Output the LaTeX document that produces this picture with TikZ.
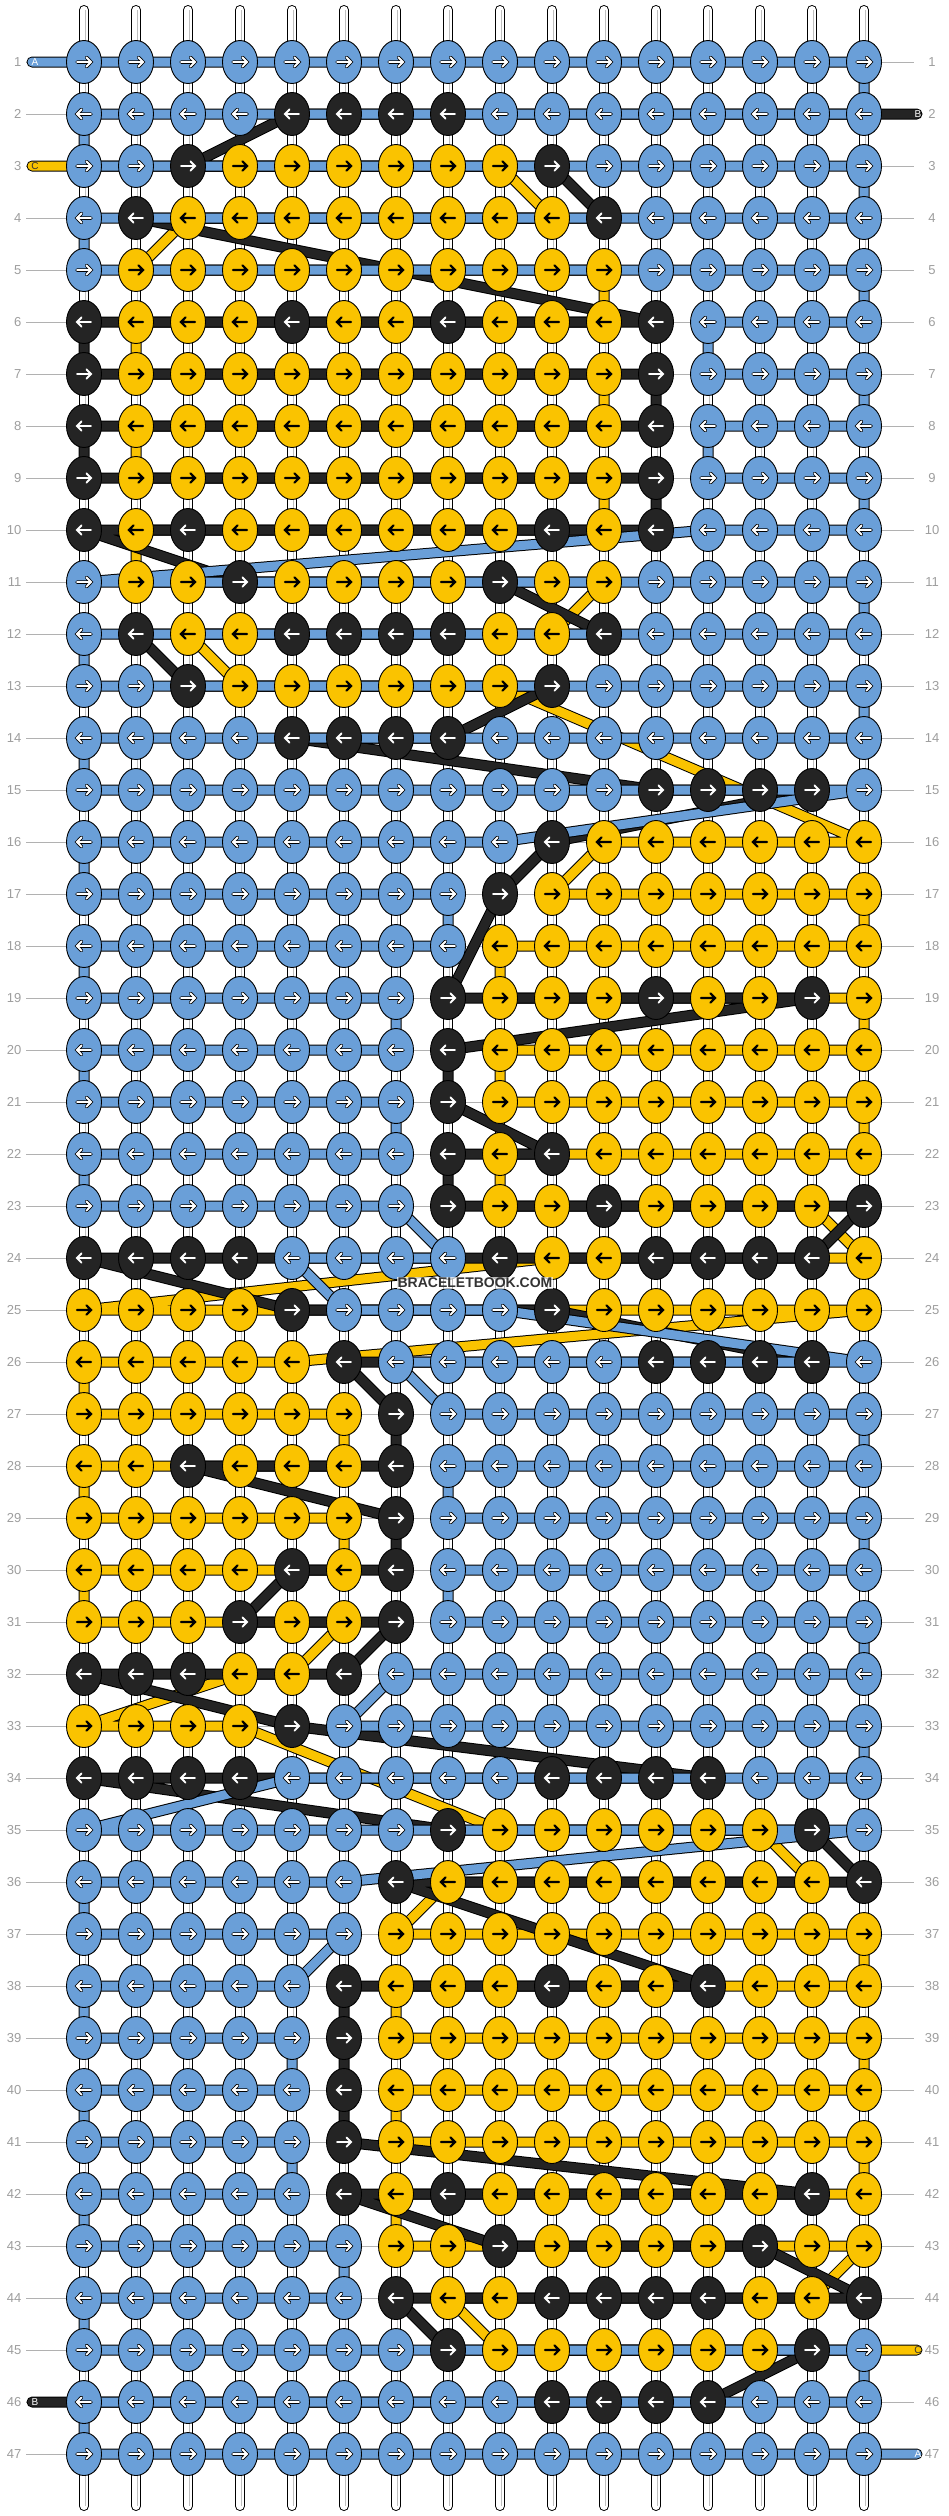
\documentclass[tikz,border=0pt]{standalone}
\usepackage{fontspec}
\setmainfont{Liberation Sans}
\usetikzlibrary{shapes.geometric}
\definecolor{cA}{RGB}{106,159,216}
\definecolor{cB}{RGB}{36,36,36}
\definecolor{cC}{RGB}{250,195,0}
\definecolor{labgray}{RGB}{158,158,158}
\definecolor{strgray}{RGB}{190,190,190}
\newcommand\knotrow[2]{%
 \pgfmathsetmacro\kdir{2*mod(#1,2)-1}%
 \foreach \k [count=\i] in {#2}{%
   \node[knot=c\k] (k-\i-#1) at (p-\i-#1) {};
   \begin{scope}[shift={(p-\i-#1)},xscale=\kdir]
     \if\k C\relax
       \draw[arrD] (-7,0)--(7,0) (2.5,-4.6)--(7,0)--(2.5,4.6);
     \else
       \if\k A\relax \draw[arrO] (-7,0)--(7,0) (2.5,-4.6)--(7,0)--(2.5,4.6); \fi
       \draw[arrW] (-7,0)--(7,0) (2.5,-4.6)--(7,0)--(2.5,4.6);
     \fi
   \end{scope}
 }%
}
\begin{document}
\begin{tikzpicture}[x=1pt,y=-1pt,
  knot/.style={ellipse, draw=black, line width=0.9pt, fill=#1, minimum width=35pt, minimum height=43pt, inner sep=0pt},
  thread/.style={line width=9pt, draw=#1, line join=round, line cap=round,
     preaction={draw=black, line width=11pt, line join=round, line cap=round}},
  strout/.style={draw=black, line width=10pt, line cap=round},
  strin/.style={draw=white, line width=8pt, line cap=round},
  strmid/.style={draw=strgray, line width=0.9pt},
  rowline/.style={draw=labgray!80, line width=0.8pt},
  rowlab/.style={font=\fontsize{13}{13}\selectfont, text=labgray, inner sep=0pt},
  barlet/.style={font=\fontsize{10}{10}\selectfont, inner sep=0pt},
  arrD/.style={draw=black, line width=2.2pt, line cap=round, line join=miter},
  arrW/.style={draw=white, line width=1.9pt, line cap=round, line join=miter},
  arrO/.style={draw=black, line width=3.5pt, line cap=round, line join=miter},
  wm/.style={font=\bfseries\fontsize{14}{14}\selectfont, text=black!80, fill=white, fill opacity=0.7, text opacity=1, inner sep=1pt}
]
\useasboundingbox (0,0) rectangle (948,2516);
\fill[white] (0,0) rectangle (948,2516);
% grid coordinates
\foreach \c in {1,...,16}{\foreach \r in {1,...,47}{\coordinate (p-\c-\r) at ({84+52*(\c-1)},{62+52*(\r-1)});}}
% row guide lines and labels
\foreach \r in {1,...,47}{
  \coordinate (gl-\r) at (26,{62+52*(\r-1)});
  \coordinate (gr-\r) at (914,{62+52*(\r-1)});
  \draw[rowline] (gl-\r) -- (gr-\r);
  \node[rowlab, anchor=east] (L-\r) at (21.5,{62+52*(\r-1)}) {\r};
  \node[rowlab] (R-\r) at (932,{62+52*(\r-1)}) {\r};
}
% vertical base strings
\foreach \c in {1,...,16}{
  \coordinate (st-\c) at ({84+52*(\c-1)},10);
  \coordinate (sb-\c) at ({84+52*(\c-1)},2506);
  \draw[strout] (st-\c) -- (sb-\c);
  \draw[strin] (st-\c) -- (sb-\c);
  \draw[strmid] ([xshift=1.5pt]st-\c) -- ([xshift=1.5pt]sb-\c);
}
% free ends of the working threads
\coordinate (aL) at (32,62);
\coordinate (cL) at (32,166);
\coordinate (bR) at (917,114);
\coordinate (cR) at (917,2350);
\coordinate (bL) at (32,2402);
\coordinate (aR) at (917,2454);
% thread C (yellow)
\draw[thread=cC] (cL) -- (p-9-3) -- (p-10-4) -- (p-3-4) -- (p-2-5) -- (p-11-5) -- (p-11-6) -- (p-2-6) -- (p-2-7) -- (p-11-7) -- (p-11-8) -- (p-2-8) -- (p-2-9) -- (p-11-9) -- (p-11-10) -- (p-2-10) -- (p-2-11) -- (p-11-11) -- (p-10-12) -- (p-3-12) -- (p-4-13) -- (p-9-13) -- (p-16-16) -- (p-11-16) -- (p-10-17) -- (p-16-17) -- (p-16-18) -- (p-9-18) -- (p-9-19) -- (p-16-19) -- (p-16-20) -- (p-9-20) -- (p-9-21) -- (p-16-21) -- (p-16-22) -- (p-9-22) -- (p-9-23) -- (p-15-23) -- (p-16-24) -- (p-10-24) -- (p-1-25) -- (p-16-25) -- (p-5-26) -- (p-1-26) -- (p-1-27) -- (p-6-27) -- (p-6-28) -- (p-1-28) -- (p-1-29) -- (p-6-29) -- (p-6-30) -- (p-1-30) -- (p-1-31) -- (p-6-31) -- (p-5-32) -- (p-4-32) -- (p-1-33) -- (p-4-33) -- (p-9-35) -- (p-14-35) -- (p-15-36) -- (p-8-36) -- (p-7-37) -- (p-16-37) -- (p-16-38) -- (p-7-38) -- (p-7-39) -- (p-16-39) -- (p-16-40) -- (p-7-40) -- (p-7-41) -- (p-16-41) -- (p-16-42) -- (p-7-42) -- (p-7-43) -- (p-16-43) -- (p-15-44) -- (p-8-44) -- (p-9-45) -- (cR);
% thread B (black)
\draw[thread=cB] (bR) -- (p-5-2) -- (p-3-3) -- (p-10-3) -- (p-11-4) -- (p-2-4) -- (p-12-6) -- (p-1-6) -- (p-1-7) -- (p-12-7) -- (p-12-8) -- (p-1-8) -- (p-1-9) -- (p-12-9) -- (p-12-10) -- (p-1-10) -- (p-4-11) -- (p-9-11) -- (p-11-12) -- (p-2-12) -- (p-3-13) -- (p-10-13) -- (p-8-14) -- (p-5-14) -- (p-12-15) -- (p-15-15) -- (p-10-16) -- (p-9-17) -- (p-8-19) -- (p-15-19) -- (p-8-20) -- (p-8-21) -- (p-10-22) -- (p-8-22) -- (p-8-23) -- (p-16-23) -- (p-15-24) -- (p-1-24) -- (p-5-25) -- (p-10-25) -- (p-15-26) -- (p-6-26) -- (p-7-27) -- (p-7-28) -- (p-3-28) -- (p-7-29) -- (p-7-30) -- (p-5-30) -- (p-4-31) -- (p-7-31) -- (p-6-32) -- (p-1-32) -- (p-5-33) -- (p-13-34) -- (p-1-34) -- (p-8-35) -- (p-15-35) -- (p-16-36) -- (p-7-36) -- (p-13-38) -- (p-6-38) -- (p-6-41) -- (p-15-42) -- (p-6-42) -- (p-9-43) -- (p-14-43) -- (p-16-44) -- (p-7-44) -- (p-8-45) -- (p-15-45) -- (p-13-46) -- (bL);
% thread A (blue)
\draw[thread=cA] (aL) -- (p-16-1) -- (p-16-2) -- (p-1-2) -- (p-1-3) -- (p-16-3) -- (p-16-4) -- (p-1-4) -- (p-1-5) -- (p-16-5) -- (p-16-6) -- (p-13-6) -- (p-13-7) -- (p-16-7) -- (p-16-8) -- (p-13-8) -- (p-13-9) -- (p-16-9) -- (p-16-10) -- (p-13-10) -- (p-1-11) -- (p-16-11) -- (p-16-12) -- (p-1-12) -- (p-1-13) -- (p-16-13) -- (p-16-14) -- (p-1-14) -- (p-1-15) -- (p-16-15) -- (p-9-16) -- (p-1-16) -- (p-1-17) -- (p-8-17) -- (p-8-18) -- (p-1-18) -- (p-1-19) -- (p-7-19) -- (p-7-20) -- (p-1-20) -- (p-1-21) -- (p-7-21) -- (p-7-22) -- (p-1-22) -- (p-1-23) -- (p-7-23) -- (p-8-24) -- (p-5-24) -- (p-6-25) -- (p-9-25) -- (p-16-26) -- (p-7-26) -- (p-8-27) -- (p-16-27) -- (p-16-28) -- (p-8-28) -- (p-8-29) -- (p-16-29) -- (p-16-30) -- (p-8-30) -- (p-8-31) -- (p-16-31) -- (p-16-32) -- (p-7-32) -- (p-6-33) -- (p-16-33) -- (p-16-34) -- (p-5-34) -- (p-1-35) -- (p-16-35) -- (p-6-36) -- (p-1-36) -- (p-1-37) -- (p-6-37) -- (p-5-38) -- (p-1-38) -- (p-1-39) -- (p-5-39) -- (p-5-40) -- (p-1-40) -- (p-1-41) -- (p-5-41) -- (p-5-42) -- (p-1-42) -- (p-1-43) -- (p-6-43) -- (p-6-44) -- (p-1-44) -- (p-1-45) -- (p-16-45) -- (p-16-46) -- (p-1-46) -- (p-1-47) -- (p-16-47) -- (aR);
% thread letters
\node[barlet, text=white] (tA1) at (35,62) {A};
\node[barlet, text=black!80] (tC1) at (35,166) {C};
\node[barlet, text=white] (tB1) at (918,114) {B};
\node[barlet, text=black!80] (tC2) at (918,2350) {C};
\node[barlet, text=white] (tB2) at (35,2402) {B};
\node[barlet, text=white] (tA2) at (918,2454) {A};
% knots
\knotrow{1}{A,A,A,A,A,A,A,A,A,A,A,A,A,A,A,A}
\knotrow{2}{A,A,A,A,B,B,B,B,A,A,A,A,A,A,A,A}
\knotrow{3}{A,A,B,C,C,C,C,C,C,B,A,A,A,A,A,A}
\knotrow{4}{A,B,C,C,C,C,C,C,C,C,B,A,A,A,A,A}
\knotrow{5}{A,C,C,C,C,C,C,C,C,C,C,A,A,A,A,A}
\knotrow{6}{B,C,C,C,B,C,C,B,C,C,C,B,A,A,A,A}
\knotrow{7}{B,C,C,C,C,C,C,C,C,C,C,B,A,A,A,A}
\knotrow{8}{B,C,C,C,C,C,C,C,C,C,C,B,A,A,A,A}
\knotrow{9}{B,C,C,C,C,C,C,C,C,C,C,B,A,A,A,A}
\knotrow{10}{B,C,B,C,C,C,C,C,C,B,C,B,A,A,A,A}
\knotrow{11}{A,C,C,B,C,C,C,C,B,C,C,A,A,A,A,A}
\knotrow{12}{A,B,C,C,B,B,B,B,C,C,B,A,A,A,A,A}
\knotrow{13}{A,A,B,C,C,C,C,C,C,B,A,A,A,A,A,A}
\knotrow{14}{A,A,A,A,B,B,B,B,A,A,A,A,A,A,A,A}
\knotrow{15}{A,A,A,A,A,A,A,A,A,A,A,B,B,B,B,A}
\knotrow{16}{A,A,A,A,A,A,A,A,A,B,C,C,C,C,C,C}
\knotrow{17}{A,A,A,A,A,A,A,A,B,C,C,C,C,C,C,C}
\knotrow{18}{A,A,A,A,A,A,A,A,C,C,C,C,C,C,C,C}
\knotrow{19}{A,A,A,A,A,A,A,B,C,C,C,B,C,C,B,C}
\knotrow{20}{A,A,A,A,A,A,A,B,C,C,C,C,C,C,C,C}
\knotrow{21}{A,A,A,A,A,A,A,B,C,C,C,C,C,C,C,C}
\knotrow{22}{A,A,A,A,A,A,A,B,C,B,C,C,C,C,C,C}
\knotrow{23}{A,A,A,A,A,A,A,B,C,C,B,C,C,C,C,B}
\knotrow{24}{B,B,B,B,A,A,A,A,B,C,C,B,B,B,B,C}
\knotrow{25}{C,C,C,C,B,A,A,A,A,B,C,C,C,C,C,C}
\knotrow{26}{C,C,C,C,C,B,A,A,A,A,A,B,B,B,B,A}
\knotrow{27}{C,C,C,C,C,C,B,A,A,A,A,A,A,A,A,A}
\knotrow{28}{C,C,B,C,C,C,B,A,A,A,A,A,A,A,A,A}
\knotrow{29}{C,C,C,C,C,C,B,A,A,A,A,A,A,A,A,A}
\knotrow{30}{C,C,C,C,B,C,B,A,A,A,A,A,A,A,A,A}
\knotrow{31}{C,C,C,B,C,C,B,A,A,A,A,A,A,A,A,A}
\knotrow{32}{B,B,B,C,C,B,A,A,A,A,A,A,A,A,A,A}
\knotrow{33}{C,C,C,C,B,A,A,A,A,A,A,A,A,A,A,A}
\knotrow{34}{B,B,B,B,A,A,A,A,A,B,B,B,B,A,A,A}
\knotrow{35}{A,A,A,A,A,A,A,B,C,C,C,C,C,C,B,A}
\knotrow{36}{A,A,A,A,A,A,B,C,C,C,C,C,C,C,C,B}
\knotrow{37}{A,A,A,A,A,A,C,C,C,C,C,C,C,C,C,C}
\knotrow{38}{A,A,A,A,A,B,C,C,C,B,C,C,B,C,C,C}
\knotrow{39}{A,A,A,A,A,B,C,C,C,C,C,C,C,C,C,C}
\knotrow{40}{A,A,A,A,A,B,C,C,C,C,C,C,C,C,C,C}
\knotrow{41}{A,A,A,A,A,B,C,C,C,C,C,C,C,C,C,C}
\knotrow{42}{A,A,A,A,A,B,C,B,C,C,C,C,C,C,B,C}
\knotrow{43}{A,A,A,A,A,A,C,C,B,C,C,C,C,B,C,C}
\knotrow{44}{A,A,A,A,A,A,B,C,C,B,B,B,B,C,C,B}
\knotrow{45}{A,A,A,A,A,A,A,B,C,C,C,C,C,C,B,A}
\knotrow{46}{A,A,A,A,A,A,A,A,A,B,B,B,B,A,A,A}
\knotrow{47}{A,A,A,A,A,A,A,A,A,A,A,A,A,A,A,A}
% watermark
\node[wm] (wm) at (475,1283) {BRACELETBOOK.COM};
\end{tikzpicture}
\end{document}
